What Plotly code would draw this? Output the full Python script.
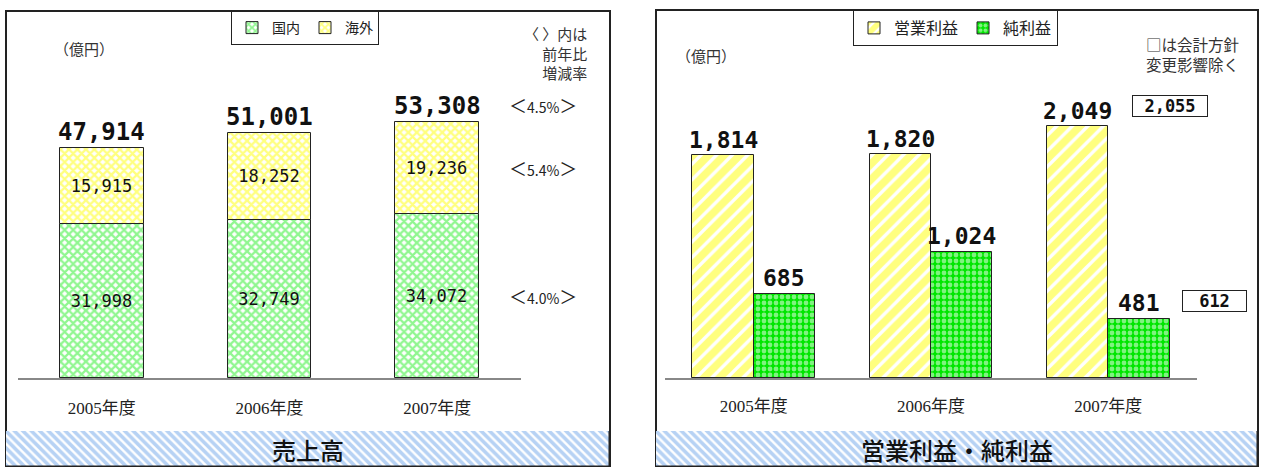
import plotly.graph_objects as go

# ---------------- data ----------------
years = ["2005年度", "2006年度", "2007年度"]
domestic = [31998, 32749, 34072]          # 国内
overseas = [15915, 18252, 19236]          # 海外
sales_total = [47914, 51001, 53308]       # 売上高 合計
growth_total = "4.5%"
growth_overseas = "5.4%"
growth_domestic = "4.0%"
op_income = [1814, 1820, 2049]            # 営業利益
net_income = [685, 1024, 481]             # 純利益
adj_op_2007 = 2055                        # 会計方針変更影響除く
adj_net_2007 = 612
panel_titles = ["売上高", "営業利益・純利益"]
unit_label = "（億円）"
note_left = "〈 〉内は<br>前年比<br>増減率"
note_right = "□は会計方針<br>変更影響除く"

W, H = 1263, 467
def px(x):
    return x / W
def py(y):
    return 1 - y / H

CJK = "Noto Sans CJK JP"
MONO = "DejaVu Sans Mono"
SERIF = "Liberation Serif, Noto Sans CJK JP"

fig = go.Figure()

# ---------------- left: sales (stacked) ----------------
fig.add_trace(go.Bar(
    x=years, y=domestic, name="国内", xaxis="x", yaxis="y", legend="legend",
    width=0.5, offset=-0.25,
    marker=dict(color="white",
                pattern=dict(shape="x", fgcolor="#22ee22", bgcolor="white", size=6, solidity=0.62),
                line=dict(color="#222", width=1)),
    text=[f"{v:,}" for v in domestic], textposition="inside", insidetextanchor="middle",
    insidetextfont=dict(family=MONO, size=17, color="#111"),
    hoverinfo="skip",
))
fig.add_trace(go.Bar(
    x=years, y=overseas, base=domestic, name="海外", xaxis="x", yaxis="y", legend="legend",
    width=0.5, offset=-0.25,
    marker=dict(color="white",
                pattern=dict(shape="x", fgcolor="#ffff00", bgcolor="white", size=6, solidity=0.62),
                line=dict(color="#222", width=1)),
    text=[f"{v:,}" for v in overseas], textposition="inside", insidetextanchor="middle",
    insidetextfont=dict(family=MONO, size=17, color="#111"),
    hoverinfo="skip",
))

# ---------------- right: profits (grouped) ----------------
fig.add_trace(go.Bar(
    x=years, y=op_income, name="営業利益", xaxis="x2", yaxis="y2", legend="legend2",
    width=0.345, offset=-0.345,
    marker=dict(color="white",
                pattern=dict(shape="/", fgcolor="#ffff00", bgcolor="white", size=11, solidity=0.7),
                line=dict(color="#222", width=1)),
    hoverinfo="skip",
))
fig.add_trace(go.Bar(
    x=years, y=net_income, name="純利益", xaxis="x2", yaxis="y2", legend="legend2",
    width=0.345, offset=0,
    marker=dict(color="#00e600",
                pattern=dict(shape=".", fgcolor="white", bgcolor="#00e600", size=6, solidity=0.5),
                line=dict(color="#222", width=1)),
    hoverinfo="skip",
))

# ---------------- banners ----------------
for i, (xa, ya) in enumerate([("x3", "y3"), ("x4", "y4")]):
    fig.add_trace(go.Bar(
        x=[panel_titles[i]], y=[1], xaxis=xa, yaxis=ya, width=1, offset=-0.5,
        showlegend=False, hoverinfo="skip",
        marker=dict(color="white",
                    pattern=dict(shape="\\", fgcolor="#6fa6ea", bgcolor="white", size=6, solidity=0.6),
                    line=dict(color="#222", width=1.5)),
    ))

ann = []
# totals
for yr, v in zip(years, sales_total):
    ann.append(dict(x=yr, y=v, xref="x", yref="y", text=f"{v:,}", showarrow=False,
                    yanchor="bottom", yshift=0,
                    font=dict(family=MONO, size=24, color="#111", weight="bold")))
# growth labels (2007 vs 2006)
def growth_text(s):
    return "＜<span style='font-size:14px'>" + s + "</span>＞"
for yv, s, anc in [(sales_total[2], growth_total, "bottom"),
                   (domestic[2] + overseas[2] / 2, growth_overseas, "middle"),
                   (domestic[2] / 2, growth_domestic, "middle")]:
    ann.append(dict(x=years[2], y=yv, xref="x", yref="y", text=growth_text(s), showarrow=False,
                    xshift=106, yanchor=anc, yshift=2 if anc == "bottom" else 0,
                    font=dict(family=CJK, size=18, color="#222")))
# profit values
for yr, v in zip(years, op_income):
    ann.append(dict(x=yr, y=v, xref="x2", yref="y2", text=f"{v:,}", showarrow=False,
                    xshift=-30.5, yanchor="bottom",
                    font=dict(family=MONO, size=23, color="#111", weight="bold")))
for yr, v in zip(years, net_income):
    ann.append(dict(x=yr, y=v, xref="x2", yref="y2", text=f"{v:,}", showarrow=False,
                    xshift=30.5, yanchor="bottom", yshift=1,
                    font=dict(family=MONO, size=23, color="#111", weight="bold")))
# adjusted value boxes
ann.append(dict(x=years[2], y=op_income[2], xref="x2", yref="y2", text=f"{adj_op_2007:,}",
                showarrow=False, xshift=62, yshift=20, yanchor="middle",
                width=72, height=18, borderpad=1, bordercolor="#222", borderwidth=1, bgcolor="white",
                font=dict(family=MONO, size=17, color="#111", weight="bold")))
ann.append(dict(x=years[2], y=net_income[2], xref="x2", yref="y2", text=f"{adj_net_2007:,}",
                showarrow=False, xshift=106, yshift=18, yanchor="middle",
                width=61, height=18, borderpad=1, bordercolor="#222", borderwidth=1, bgcolor="white",
                font=dict(family=MONO, size=17, color="#111", weight="bold")))
# unit labels & notes
ann.append(dict(x=px(52), y=py(48), xref="paper", yref="paper", text=unit_label, showarrow=False,
                yanchor="middle", font=dict(family=CJK, size=15, color="#333")))
ann.append(dict(x=px(706), y=py(55), xref="paper", yref="paper", text=unit_label, showarrow=False,
                yanchor="middle", font=dict(family=CJK, size=15, color="#333")))
ann.append(dict(x=px(589), y=py(21), xref="paper", yref="paper", text=note_left, showarrow=False,
                xanchor="right", yanchor="top", align="right",
                font=dict(family=CJK, size=15, color="#333")))
ann.append(dict(x=px(1241), y=py(31), xref="paper", yref="paper", text=note_right, showarrow=False,
                xanchor="right", yanchor="top", align="right",
                font=dict(family=CJK, size=15.5, color="#333")))
# banner titles
for i, xa in enumerate(["x3", "x4"]):
    ann.append(dict(x=0.5, y=py(449), xref=f"{xa} domain", yref="paper", text=panel_titles[i],
                    showarrow=False, yanchor="middle",
                    font=dict(family=CJK, size=24, color="#111", weight=500)))

plot_top = 90
base_px = 378
y_dom = [py(base_px), py(plot_top)]
left_scale = 0.00481   # px per 億円
right_scale = 0.1230

xcommon = dict(type="category", range=[-0.5, 2.5], showline=True, linecolor="#888", linewidth=1.5,
               showgrid=False, zeroline=False, ticks="", fixedrange=True,
               tickfont=dict(family=SERIF, size=17, color="#222"))
ycommon = dict(visible=False, showgrid=False, zeroline=False, fixedrange=True)

fig.update_layout(
    width=W, height=H, margin=dict(l=0, r=0, t=0, b=0),
    paper_bgcolor="white", plot_bgcolor="rgba(0,0,0,0)",
    barmode="group", bargap=0, showlegend=True,
    xaxis=dict(domain=[px(18), px(521)], anchor="y", ticklabelstandoff=14, **xcommon),
    yaxis=dict(domain=y_dom, anchor="x", range=[0, (base_px - plot_top) / left_scale], **ycommon),
    xaxis2=dict(domain=[px(665), px(1197)], anchor="y2", ticklabelstandoff=12, **xcommon),
    yaxis2=dict(domain=y_dom, anchor="x2", range=[0, (base_px - plot_top) / right_scale], **ycommon),
    xaxis3=dict(domain=[px(6), px(610)], anchor="y3", type="category", range=[-0.5, 0.5], visible=False, fixedrange=True),
    yaxis3=dict(domain=[0, py(431)], anchor="x3", range=[0, 1], visible=False, fixedrange=True),
    xaxis4=dict(domain=[px(656), px(1258)], anchor="y4", type="category", range=[-0.5, 0.5], visible=False, fixedrange=True),
    yaxis4=dict(domain=[0, py(431)], anchor="x4", range=[0, 1], visible=False, fixedrange=True),
    legend=dict(x=px(231), y=py(11), xanchor="left", yanchor="top", orientation="h",
                bordercolor="#222", borderwidth=1, bgcolor="white", traceorder="normal",
                itemwidth=30, tracegroupgap=0, font=dict(family=CJK, size=14, color="#222")),
    legend2=dict(x=px(853), y=py(10), xanchor="left", yanchor="top", orientation="h",
                 bordercolor="#222", borderwidth=1, bgcolor="white", traceorder="normal",
                 itemwidth=30, tracegroupgap=0, font=dict(family=CJK, size=16, color="#222")),
    annotations=ann,
    shapes=[
        dict(type="rect", xref="paper", yref="paper", x0=px(6), x1=px(610), y0=-0.02, y1=py(11),
             line=dict(color="#222", width=2), layer="below"),
        dict(type="rect", xref="paper", yref="paper", x0=px(656), x1=px(1258), y0=-0.02, y1=py(10),
             line=dict(color="#222", width=2), layer="below"),
    ],
)

fig.write_html("out.html", config={"displayModeBar": False},
               post_script="document.body.style.margin='0px';")
